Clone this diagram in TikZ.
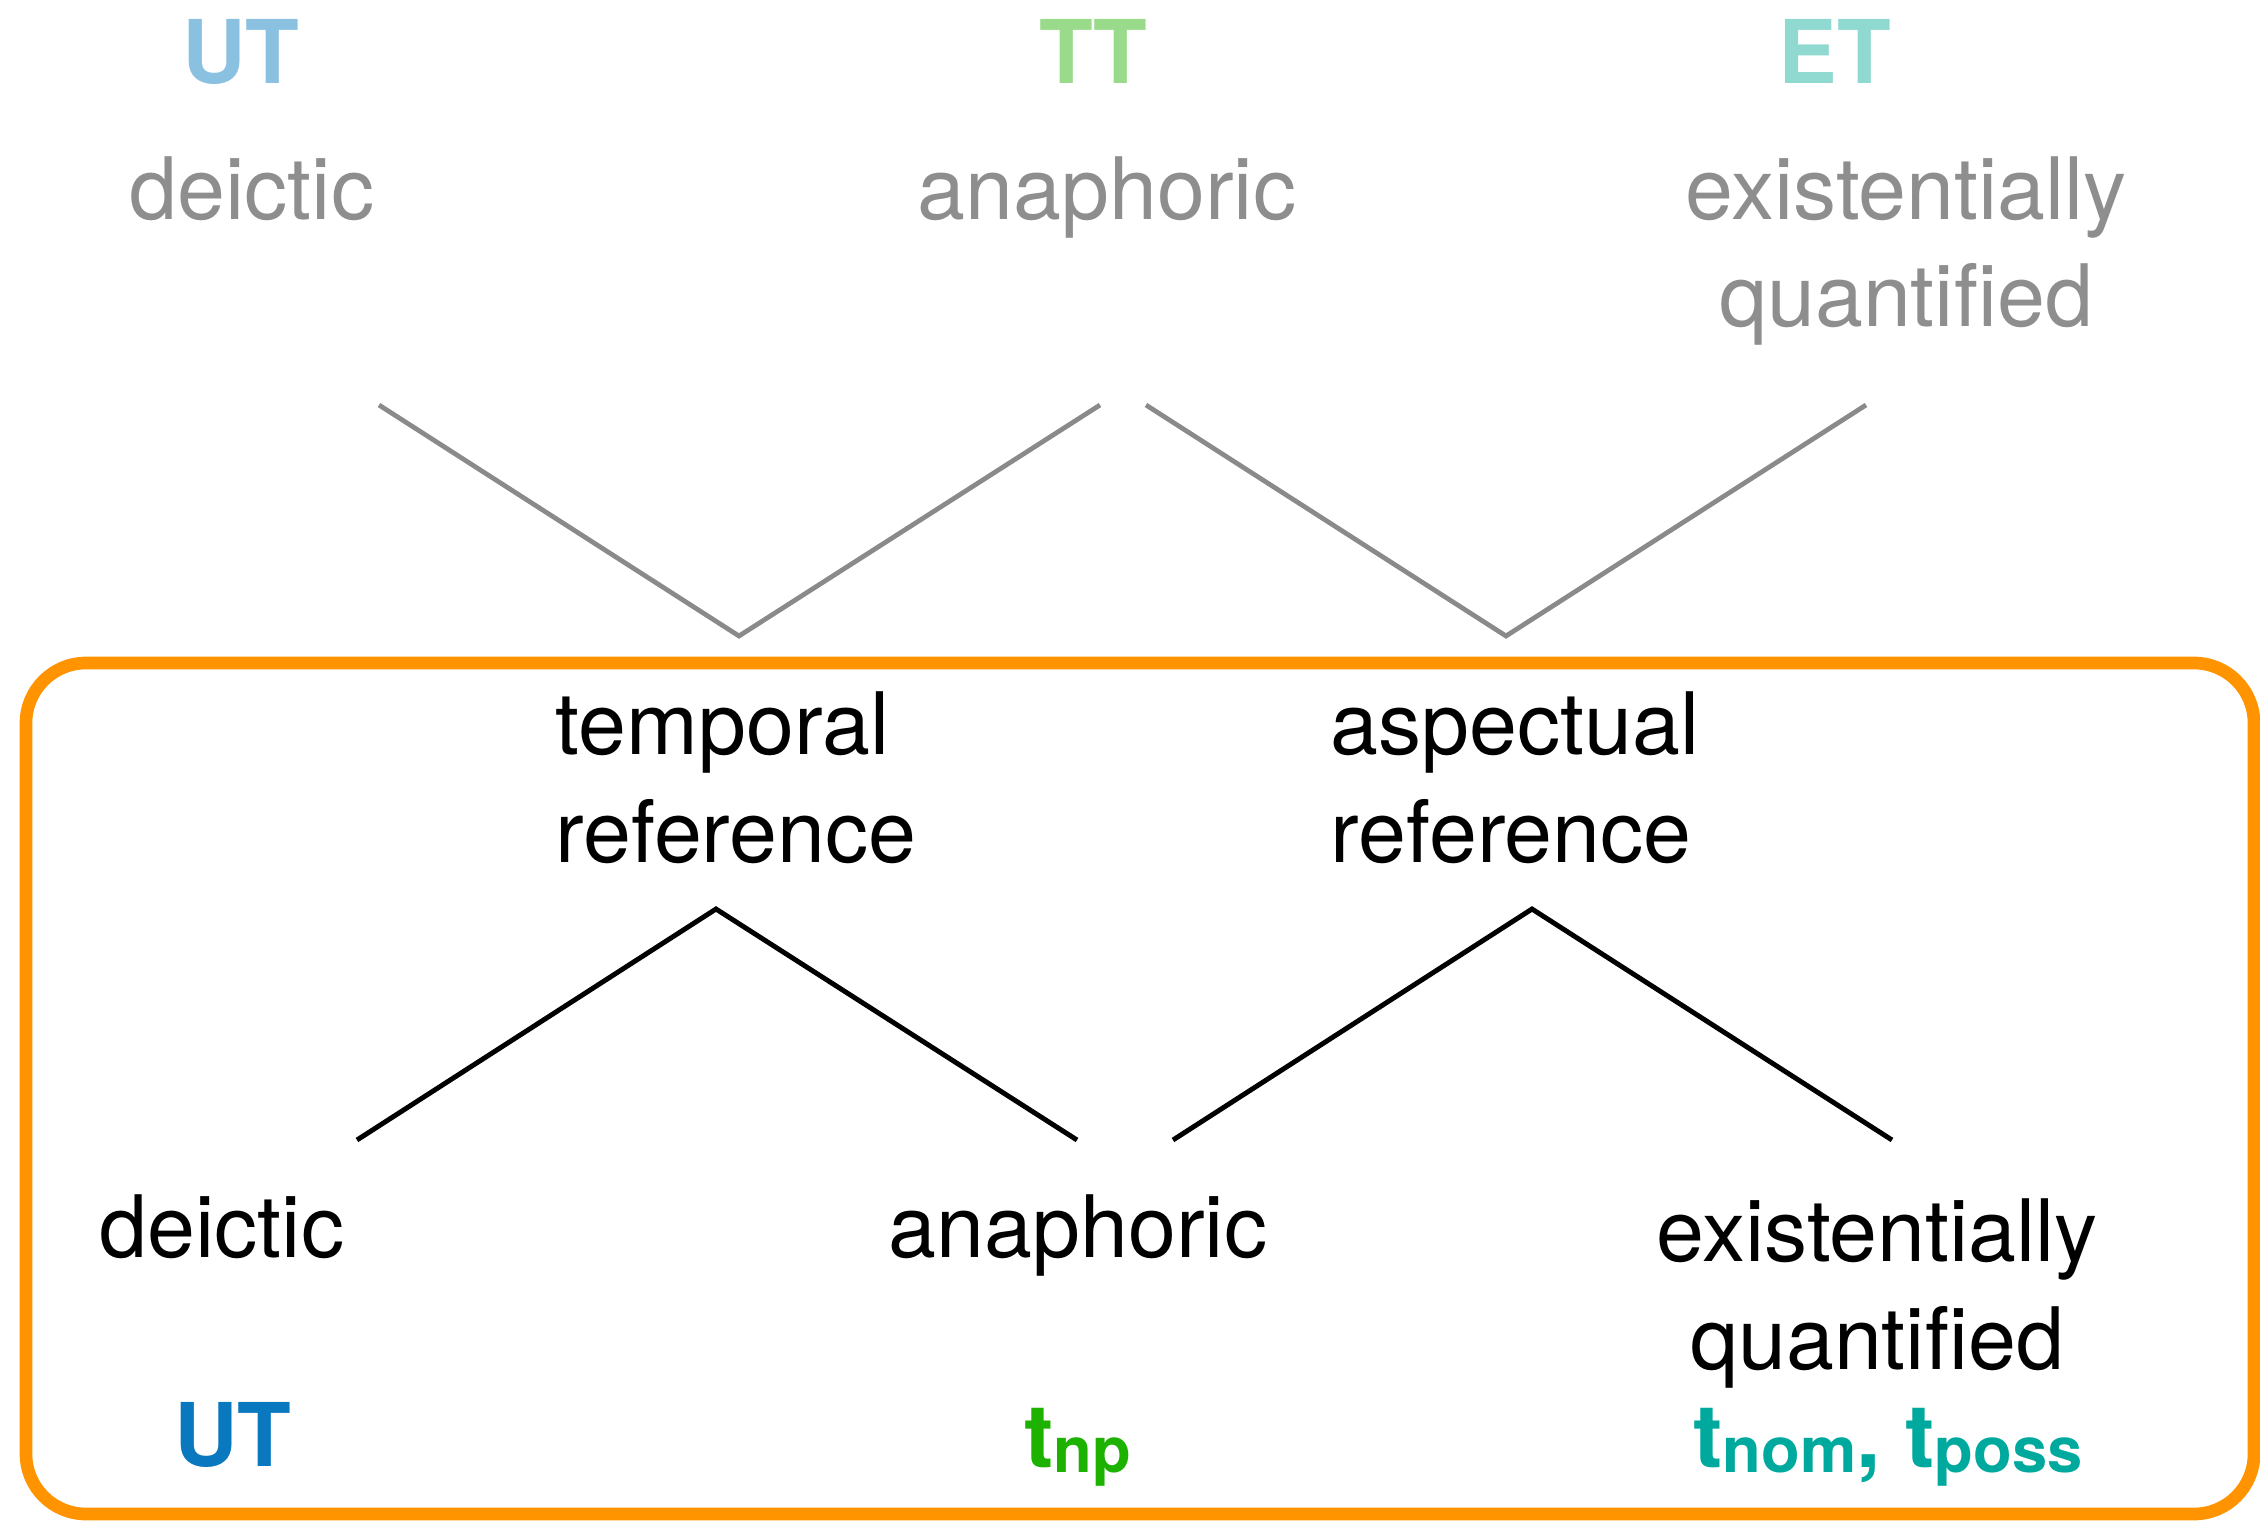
\documentclass[tikz,border=0pt]{standalone}
\usepackage{fontspec}
\setmainfont{TeX Gyre Heros}
\usepackage{xcolor}
\usetikzlibrary{positioning}

\definecolor{txtgrey}{HTML}{8E8E8E}
\definecolor{linegrey}{HTML}{8A8A8A}
\definecolor{utpale}{HTML}{8BC1E0}
\definecolor{ttpale}{HTML}{99DB8A}
\definecolor{etpale}{HTML}{8FD9D1}
\definecolor{utblue}{HTML}{0A78BE}
\definecolor{tgreen}{HTML}{1DB100}
\definecolor{tteal}{HTML}{00A99D}
\definecolor{frameorange}{HTML}{FF9300}

\newcommand{\subtag}[1]{\raisebox{-1.7pt}{\fontsize{18}{20}\selectfont #1}}

\begin{document}
\begin{tikzpicture}[x=0.01cm,y=-0.01cm,
 lbl/.style={font=\fontsize{24.5}{30.7}\selectfont,inner sep=0pt,align=center},
 greytxt/.style={lbl,text=txtgrey},
 tag/.style={font=\fontsize{25}{30}\selectfont\bfseries,inner sep=0pt},
 greyline/.style={draw=linegrey,line width=1.35pt},
 blackline/.style={draw=black,line width=1.4pt}]
\useasboundingbox (0,0) rectangle (2260,1521);
\draw[frameorange,line width=3.6pt,rounded corners=0.6cm] (26,663) rectangle (2254,1514);
% top row
\node[tag,text=utpale,anchor=base] (utp) at (241,83) {UT};
\node[tag,text=ttpale,anchor=base] (ttp) at (1093,83) {TT};
\node[tag,text=etpale,anchor=base] (etp) at (1835,83) {ET};
\node[greytxt,anchor=base] (gdei) at (252,219) {deictic};
\node[greytxt,anchor=base] (gana) at (1107,219) {anaphoric};
\node[greytxt] (gex) at (1906,251) {existentially\\quantified};
% middle
\node[lbl,align=left] (tempref) at (736,778) {temporal\\reference};
\node[lbl,align=left] (aspref) at (1515,778) {aspectual\\reference};
% bottom row
\node[lbl,anchor=base] (dei) at (222,1257) {deictic};
\node[lbl,anchor=base] (ana) at (1078,1257) {anaphoric};
\node[lbl] (ex) at (1877,1293) {existentially\\quantified};
\node[tag,text=utblue,anchor=base] (ut) at (233,1466) {UT};
\node[tag,text=tgreen,anchor=base] (tnp) at (1078,1467) {t\subtag{np}};
\node[tag,text=tteal,anchor=base] (tnom) at (1888,1467) {t\subtag{nom}, t\subtag{poss}};
% grey branches
\coordinate (utend) at (379,405);
\coordinate (trtop) at (739,636);
\coordinate (ttleft) at (1100,405);
\coordinate (ttright) at (1146,405);
\coordinate (artop) at (1506,636);
\coordinate (etend) at (1866,405);
\draw[greyline] (utend) -- (trtop) -- (ttleft);
\draw[greyline] (ttright) -- (artop) -- (etend);
% black branches
\coordinate (trfoot) at (716,909);
\coordinate (deiend) at (357,1140);
\coordinate (analeft) at (1077,1140);
\coordinate (arfoot) at (1532,909);
\coordinate (anaright) at (1173,1140);
\coordinate (exend) at (1892,1140);
\draw[blackline] (deiend) -- (trfoot) -- (analeft);
\draw[blackline] (anaright) -- (arfoot) -- (exend);
\end{tikzpicture}
\end{document}
